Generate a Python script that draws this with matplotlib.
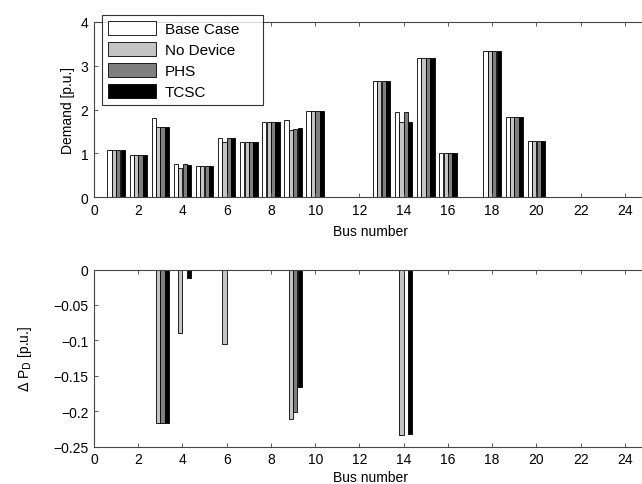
import numpy as np
import matplotlib
matplotlib.use("Agg")
import matplotlib.pyplot as plt

plt.rcParams['font.family'] = ['Liberation Sans', 'DejaVu Sans']
plt.rcParams['font.size'] = 10

buses = np.arange(1, 25)
series = ['Base Case', 'No Device', 'PHS', 'TCSC']
colors = ['white', '#c4c4c4', '#7f7f7f', 'black']

# demand per bus [p.u.]
base_case = [1.08, 0.96, 1.81, 0.75, 0.71, 1.36, 1.25, 1.71, 1.75, 1.96, 0, 0,
             2.66, 1.95, 3.18, 1.00, 0, 3.34, 1.82, 1.28, 0, 0, 0, 0]
no_device = [1.08, 0.96, 1.59, 0.66, 0.71, 1.25, 1.25, 1.71, 1.54, 1.96, 0, 0,
             2.66, 1.72, 3.18, 1.00, 0, 3.34, 1.82, 1.28, 0, 0, 0, 0]
phs = [1.08, 0.96, 1.59, 0.75, 0.71, 1.36, 1.25, 1.71, 1.55, 1.96, 0, 0,
       2.66, 1.95, 3.18, 1.00, 0, 3.34, 1.82, 1.28, 0, 0, 0, 0]
tcsc = [1.08, 0.96, 1.59, 0.74, 0.71, 1.36, 1.25, 1.71, 1.585, 1.96, 0, 0,
        2.66, 1.72, 3.18, 1.00, 0, 3.34, 1.82, 1.28, 0, 0, 0, 0]

# change in demand per bus [p.u.]
d_base = [0] * 24
d_no_device = [0, 0, -0.217, -0.09, 0, -0.105, 0, 0, -0.211, 0, 0, 0,
               0, -0.234, 0, 0, 0, 0, 0, 0, 0, 0, 0, 0]
d_phs = [0, 0, -0.217, 0, 0, 0, 0, 0, -0.201, 0, 0, 0,
         0, 0, 0, 0, 0, 0, 0, 0, 0, 0, 0, 0]
d_tcsc = [0, 0, -0.217, -0.012, 0, 0, 0, 0, -0.166, 0, 0, 0,
          0, -0.232, 0, 0, 0, 0, 0, 0, 0, 0, 0, 0]

fig = plt.figure(figsize=(6.42, 4.85), dpi=100)
W, H = 642, 485
x0 = 94
unit = 22.12


def make_ax(top_px, bot_px):
    return fig.add_axes([x0 / W, 1 - bot_px / H, 25 * unit / W, (bot_px - top_px) / H])


ax1 = make_ax(23, 198)
ax2 = make_ax(270.5, 447.5)

width = 0.19
offsets = [-0.3, -0.1, 0.1, 0.3]


def grouped(ax, data):
    for vals, c, off, name in zip(data, colors, offsets, series):
        ax.bar(buses + off, vals, width, color=c, edgecolor='black',
               linewidth=0.6, label=name)


grouped(ax1, [base_case, no_device, phs, tcsc])
grouped(ax2, [d_base, d_no_device, d_phs, d_tcsc])

for ax in (ax1, ax2):
    ax.set_xlim(0, 25)
    ax.set_xticks(np.arange(0, 25, 2))
    ax.tick_params(direction='in', top=True, right=True, length=3, width=0.6,
                   color='#444444', pad=4)
    for s in ax.spines.values():
        s.set_linewidth(0.8)
        s.set_color('#444444')

ax1.set_xlabel('Bus number', labelpad=5)
ax2.set_xlabel('Bus number', labelpad=3)

ax1.set_ylim(0, 4)
ax1.set_yticks([0, 1, 2, 3, 4])
ax1.set_ylabel('Demand [p.u.]', labelpad=4)

ax2.set_ylim(-0.25, 0)
ax2.set_yticks([0, -0.05, -0.1, -0.15, -0.2, -0.25])
ax2.set_yticklabels(['0', '\u22120.05', '\u22120.1', '\u22120.15', '\u22120.2', '\u22120.25'])
ax2.set_ylabel(r'$\Delta$ P$_{\rm D}$ [p.u.]', labelpad=14)

leg = ax1.legend(loc='upper left', bbox_to_anchor=(0.015, 0.0, 0.291, 1.04),
                 mode='expand', frameon=True,
                 fancybox=False, edgecolor='black', handlelength=3.1,
                 handleheight=1.05, labelspacing=0.37, borderpad=0.4,
                 handletextpad=0.6, fontsize=11, borderaxespad=0)
leg.get_frame().set_linewidth(0.8)

fig.savefig('out.png', dpi=100)
